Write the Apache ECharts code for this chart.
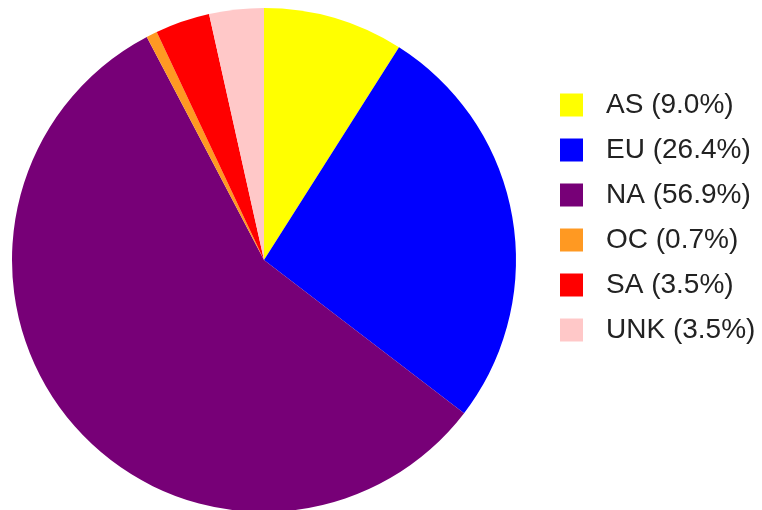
<!DOCTYPE html>
<html>
<head>
<meta charset="utf-8">
<script src="https://cdn.jsdelivr.net/npm/echarts@6/dist/echarts.min.js"></script>
<style>html,body{margin:0;padding:0;background:#fff}#c{width:762px;height:510px}</style>
</head>
<body>
<div id="c"></div>
<script>
const categories = ['AS', 'EU', 'NA', 'OC', 'SA', 'UNK'];
const values = [9.0, 26.4, 56.9, 0.7, 3.5, 3.5];
const colors = ['#ffff00', '#0000ff', '#770077', '#ff9922', '#ff0000', '#ffc8c8'];

const chart = echarts.init(document.getElementById('c'), null, {renderer: 'canvas'});
const data = categories.map((c, i) => ({name: c, value: values[i], itemStyle: {color: colors[i]}}));
chart.setOption({
  animation: false,
  backgroundColor: '#ffffff',
  legend: {
    orient: 'vertical',
    left: 560,
    top: 91,
    padding: 0,
    itemWidth: 23,
    itemHeight: 23,
    itemGap: 17,
    icon: 'rect',
    formatter: function (name) {
      const i = categories.indexOf(name);
      return name + ' (' + values[i].toFixed(1) + '%)';
    },
    textStyle: {fontFamily: 'Liberation Sans', fontSize: 28, color: '#222', lineHeight: 23, height: 23, padding: [0, 0, 0, 18]}
  },
  series: [{
    type: 'pie',
    center: [264, 260],
    radius: 252,
    startAngle: 90,
    clockwise: true,
    label: {show: false},
    labelLine: {show: false},
    emphasis: {disabled: true},
    data: data
  }]
});
</script>
</body>
</html>
